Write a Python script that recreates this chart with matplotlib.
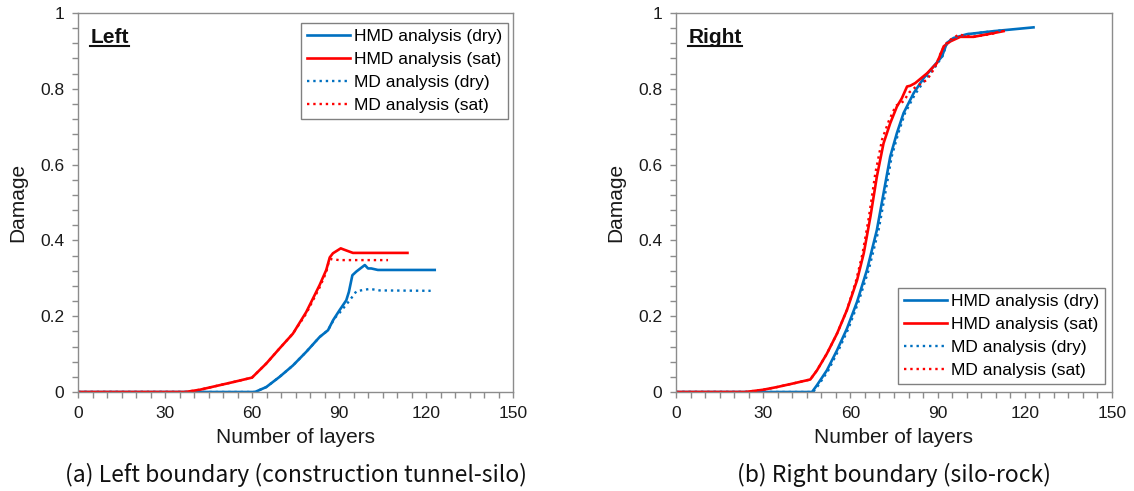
import matplotlib
matplotlib.use("Agg")
import matplotlib.pyplot as plt
from matplotlib.lines import Line2D
from matplotlib.ticker import MultipleLocator

plt.rcParams["font.family"] = ["Liberation Sans", "DejaVu Sans"]

BLUE = "#0070C0"
RED = "#FF0000"
GREY = "#8C8C8C"

# ---- Left boundary (construction tunnel-silo) ----
left_hmd_dry_x = [0, 61, 64.9, 69.5, 74.1, 78.7, 83.3, 86.2, 88, 90.2, 92.5, 93.4, 94.6, 96, 98.9, 100, 101.1, 103.4, 123]
left_hmd_dry_y = [0, 0, 0.013, 0.04, 0.07, 0.106, 0.145, 0.163, 0.19, 0.216, 0.242, 0.264, 0.308, 0.318, 0.335, 0.326, 0.326, 0.322, 0.322]

left_hmd_sat_x = [0, 37, 42, 47.7, 53.4, 60, 64.9, 69.5, 74.1, 78.7, 83.3, 85.6, 86.8, 87.9, 90.6, 91.6, 94.8, 113.6]
left_hmd_sat_y = [0, 0, 0.006, 0.016, 0.026, 0.038, 0.075, 0.115, 0.154, 0.211, 0.282, 0.322, 0.355, 0.366, 0.379, 0.376, 0.367, 0.367]

left_md_dry_x = [0, 61, 64.9, 69.5, 74.1, 78.7, 83.3, 86.2, 88.5, 90, 93.7, 96, 100.6, 104, 121.6]
left_md_dry_y = [0, 0, 0.013, 0.04, 0.07, 0.106, 0.145, 0.163, 0.195, 0.207, 0.242, 0.266, 0.272, 0.268, 0.267]

left_md_sat_x = [0, 37, 42, 47.7, 53.4, 60, 64.9, 69.5, 74.1, 78.7, 83.3, 85.6, 86.5, 87.3, 90, 106.9]
left_md_sat_y = [0, 0, 0.006, 0.016, 0.026, 0.038, 0.075, 0.115, 0.154, 0.207, 0.276, 0.316, 0.345, 0.351, 0.348, 0.348]

# ---- Right boundary (silo-rock) ----
right_hmd_dry_x = [0, 46.8, 48.5, 51.9, 55.4, 58.8, 62.3, 65.7, 69.1, 71.4, 73.7, 76, 78.3, 81.8, 85.2, 88.6, 91.5, 93.2, 95.5, 100.1, 109.3, 123]
right_hmd_dry_y = [0, 0, 0.018, 0.057, 0.11, 0.167, 0.238, 0.322, 0.427, 0.524, 0.621, 0.683, 0.736, 0.789, 0.828, 0.859, 0.885, 0.921, 0.934, 0.944, 0.952, 0.962]

right_hmd_sat_x = [0, 23.9, 30, 34.7, 40, 46.2, 48.5, 51.9, 55.4, 58.8, 62.3, 64.6, 66.9, 69.1, 71.4, 73.7, 76, 77.7, 79.5, 80.6, 82.3, 86.4, 89.8, 92.1, 94.4, 97.8, 102.4, 109.3, 112.7]
right_hmd_sat_y = [0, 0, 0.006, 0.013, 0.022, 0.033, 0.057, 0.101, 0.154, 0.216, 0.295, 0.366, 0.463, 0.568, 0.656, 0.709, 0.753, 0.775, 0.806, 0.808, 0.815, 0.841, 0.868, 0.912, 0.925, 0.937, 0.937, 0.947, 0.952]

right_md_dry_x = [0, 47.2, 49, 52.4, 55.9, 59.3, 62.8, 66.3, 69.7, 72, 74.2, 76.5, 78.8, 82.2, 85.5, 88.9, 91.7, 93.3, 95.5, 100.1, 109.3, 112]
right_md_dry_y = [0, 0, 0.018, 0.057, 0.11, 0.167, 0.238, 0.322, 0.427, 0.524, 0.621, 0.683, 0.736, 0.785, 0.822, 0.855, 0.886, 0.922, 0.934, 0.944, 0.952, 0.954]

right_md_sat_x = [0, 23.9, 30, 34.7, 40, 46.2, 48.5, 51.9, 55.4, 58.8, 62.0, 64.2, 66.4, 68.6, 70.9, 73.2, 75.6, 78.3, 80.2, 82.5, 86.4, 89.0, 91.4, 93.5, 97.3, 102, 106.5, 110]
right_md_sat_y = [0, 0, 0.006, 0.013, 0.022, 0.033, 0.057, 0.101, 0.154, 0.216, 0.295, 0.366, 0.463, 0.578, 0.666, 0.715, 0.755, 0.767, 0.79, 0.805, 0.824, 0.855, 0.9, 0.925, 0.943, 0.937, 0.942, 0.947]

series_labels = ["HMD analysis (dry)", "HMD analysis (sat)", "MD analysis (dry)", "MD analysis (sat)"]
x_ticks = [0, 30, 60, 90, 120, 150]
y_ticks = [0, 0.2, 0.4, 0.6, 0.8, 1]
y_tick_labels = ["0", "0.2", "0.4", "0.6", "0.8", "1"]

fig = plt.figure(figsize=(11.34, 4.91), dpi=100)
ax_left = fig.add_axes([0.0688, 0.2016, 0.3836, 0.772])
ax_right = fig.add_axes([0.5961, 0.2016, 0.3845, 0.772])


def draw_panel(ax, data, tag, caption, legend_loc, legend_anchor):
    styles = [(BLUE, "-"), (RED, "-"), (BLUE, ":"), (RED, ":")]
    for (xs, ys), (c, ls), lab in zip(data, styles, series_labels):
        ax.plot(xs, ys, color=c, linestyle=ls, lw=1.9 if ls == "-" else 1.7,
                label=lab, solid_joinstyle="round")
    ax.set_xlim(0, 150)
    ax.set_ylim(0, 1)
    ax.set_xticks(x_ticks)
    ax.set_yticks(y_ticks)
    ax.set_yticklabels(y_tick_labels)
    ax.xaxis.set_minor_locator(MultipleLocator(5))
    ax.yaxis.set_minor_locator(MultipleLocator(0.04))
    for s in ax.spines.values():
        s.set_color(GREY)
        s.set_linewidth(1.0)
    ax.tick_params(which="both", direction="out", color=GREY, width=1.0, length=4)
    ax.tick_params(axis="both", which="major", labelsize=12.5, pad=6, labelcolor="#1a1a1a")
    ax.set_xlabel("Number of layers", fontsize=15, labelpad=5, color="#1a1a1a")
    ax.set_ylabel("Damage", fontsize=15, labelpad=9, color="#1a1a1a")
    leg = ax.legend(loc=legend_loc, bbox_to_anchor=legend_anchor, borderaxespad=0,
                    fontsize=12.5, frameon=True, fancybox=False, handlelength=2.5,
                    handletextpad=0.2, labelspacing=0.45, borderpad=0.35)
    leg.get_frame().set_edgecolor("#606060")
    leg.get_frame().set_linewidth(1.0)
    t = ax.text(0.028, 0.935, tag, transform=ax.transAxes, fontsize=15,
                fontweight="bold", ha="left", va="center", color="#111111")
    ax.text(0.5, -0.219, caption, transform=ax.transAxes, fontsize=16.5,
            ha="center", va="center", family=["Noto Sans CJK KR", "DejaVu Sans"],
            color="#111111")
    return t


t1 = draw_panel(ax_left,
                [(left_hmd_dry_x, left_hmd_dry_y), (left_hmd_sat_x, left_hmd_sat_y),
                 (left_md_dry_x, left_md_dry_y), (left_md_sat_x, left_md_sat_y)],
                "Left", "(a) Left boundary (construction tunnel-silo)",
                "upper right", (0.9885, 0.9736))
t2 = draw_panel(ax_right,
                [(right_hmd_dry_x, right_hmd_dry_y), (right_hmd_sat_x, right_hmd_sat_y),
                 (right_md_dry_x, right_md_dry_y), (right_md_sat_x, right_md_sat_y)],
                "Right", "(b) Right boundary (silo-rock)",
                "lower right", (0.984, 0.021))

# underline the panel tags
fig.canvas.draw()
renderer = fig.canvas.get_renderer()
inv = fig.transFigure.inverted()
for t in (t1, t2):
    bb = t.get_window_extent(renderer)
    (x0, y0), (x1, _) = inv.transform([(bb.x0, bb.y0), (bb.x1, bb.y1)])
    fig.add_artist(Line2D([x0, x1], [y0 + 0.002, y0 + 0.002], transform=fig.transFigure,
                          color="#111111", lw=1.5))

fig.savefig("out.png", dpi=100, facecolor="white")
